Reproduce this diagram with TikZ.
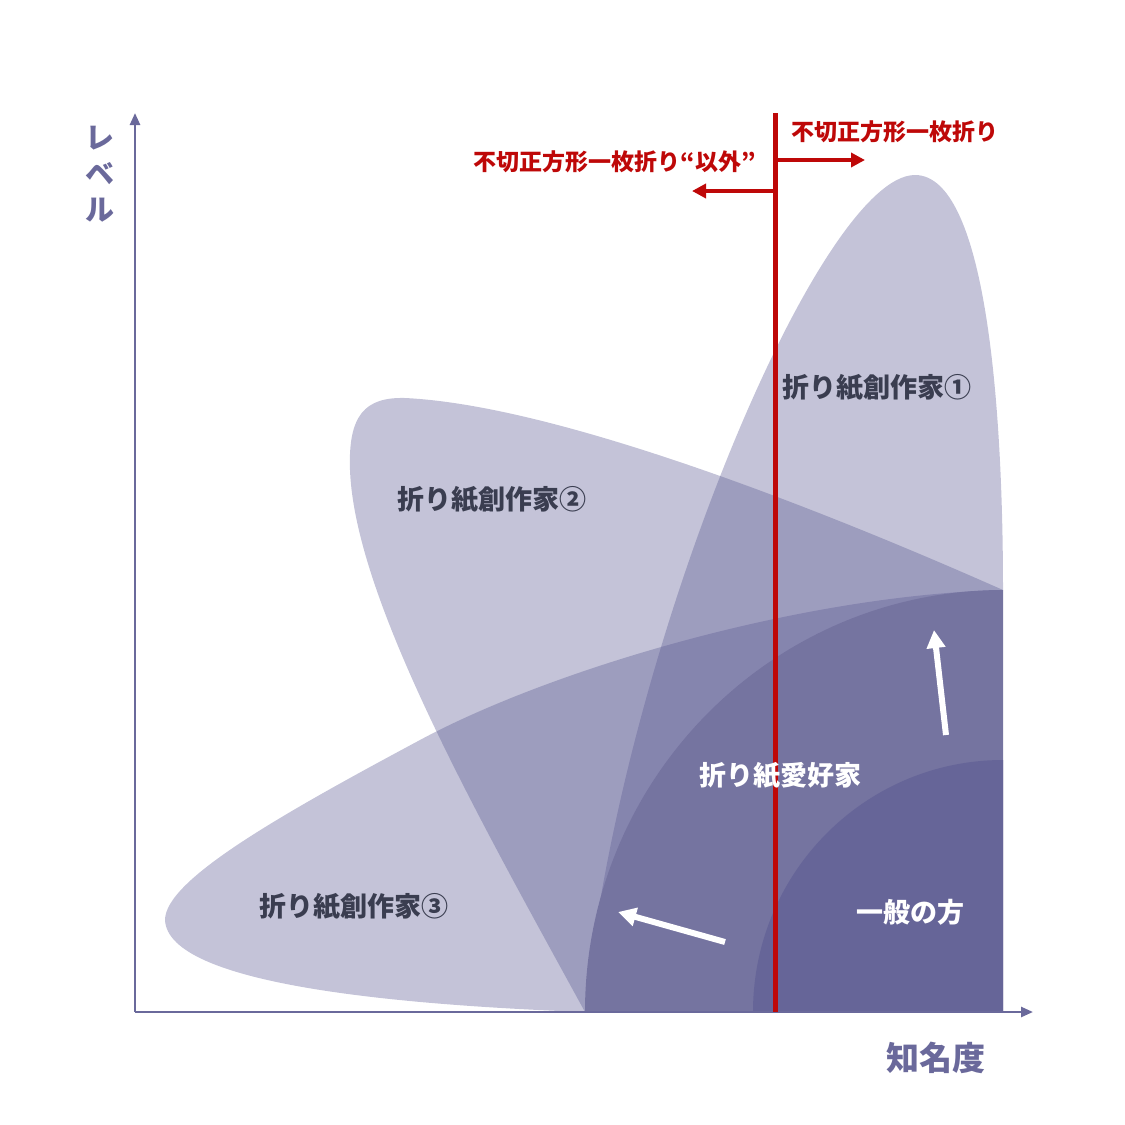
\documentclass[tikz,border=0pt]{standalone}
\usepackage{fontspec}
\setmainfont{Noto Sans CJK JP}
\usetikzlibrary{arrows.meta,positioning}
\definecolor{petalc}{RGB}{89,88,145}
\definecolor{fanbig}{RGB}{117,116,160}
\definecolor{fansmall}{RGB}{102,101,152}
\definecolor{axisc}{RGB}{106,105,155}
\definecolor{redc}{RGB}{190,8,8}
\definecolor{labc}{RGB}{58,61,80}

\begin{document}
\begin{tikzpicture}[x=1pt,y=-1pt,
petal/.style={fill=petalc,fill opacity=0.356},
lbl/.style={text=labc,font=\fontsize{27}{27}\selectfont\bfseries},
wlbl/.style={text=white,font=\fontsize{27}{27}\selectfont\bfseries},
redlbl/.style={text=redc,font=\fontsize{23}{23}\selectfont\bfseries},
axislbl/.style={text=axisc,font=\fontsize{33}{36}\selectfont\bfseries},
axisline/.style={axisc,line width=2.5pt,-{Triangle[length=12pt,width=10pt]}},
redarrow/.style={redc,line width=4pt,-{Triangle[length=14pt,width=14pt]}},
whitearrow/.style={white,line width=6pt,-{Triangle[length=18pt,width=18pt]}}]
\useasboundingbox (0,0) rectangle (1125,1125);

% petals
\fill[petal] (585,1012) .. controls (620,650) and (820,175) .. (915,175)
  .. controls (985,175) and (1003,400) .. (1003,590) -- cycle;
\fill[petal] (585,1012) .. controls (480,820) and (355,600) .. (350,470)
  .. controls (348,415) and (365,397) .. (405,398)
  .. controls (550,405) and (800,500) .. (1003,590) -- cycle;
\fill[petal] (1003,590) .. controls (800,595) and (550,670) .. (420,740)
  .. controls (280,815) and (165,880) .. (165,920)
  .. controls (168,985) and (400,1005) .. (585,1012) -- cycle;

% fans
\fill[fanbig] (1003,1012) -- (585,1012) arc[start angle=180,end angle=270,x radius=418,y radius=422] -- cycle;
\fill[fansmall] (1003,1012) -- (753,1012) arc[start angle=180,end angle=270,x radius=250,y radius=252] -- cycle;

% axes
\coordinate (o) at (135,1012);
\coordinate (ytop) at (135,113);
\coordinate (xend) at (1033,1012);
\draw[axisline] (o) -- (ytop);
\draw[axisline] (o) -- (xend);
\node[axislbl,align=center,font=\fontsize{29}{36}\selectfont\bfseries] (level) at (100,174) {レ\\ベ\\ル};
\node[axislbl] (fame) at (936,1058) {知名度};

% red border
\coordinate (rtop) at (775,113);
\coordinate (rbot) at (775,1012);
\draw[redc,line width=5pt] (rtop) -- (rbot);
\coordinate (ra) at (778,160);
\coordinate (rb) at (865,160);
\coordinate (la) at (773,191);
\coordinate (lb) at (692,191);
\draw[redarrow] (ra) -- (rb);
\draw[redarrow] (la) -- (lb);
\node[redlbl] (sq) at (895,132) {不切正方形一枚折り};
\node[redlbl] (nsq) at (615,162) {不切正方形一枚折り“以外”};

% labels
\node[lbl] (c1) at (877,388) {折り紙創作家①};
\node[lbl] (c2) at (492,500) {折り紙創作家②};
\node[lbl] (c3) at (354,907) {折り紙創作家③};
\node[wlbl] (fan) at (780,776) {折り紙愛好家};
\node[wlbl] (gen) at (910,912) {一般の方};

% white arrows
\coordinate (ua) at (946,735);
\coordinate (ub) at (934,630);
\coordinate (wa) at (725,942);
\coordinate (wb) at (618,912);
\draw[whitearrow] (ua) -- (ub);
\draw[whitearrow] (wa) -- (wb);
\end{tikzpicture}
\end{document}
